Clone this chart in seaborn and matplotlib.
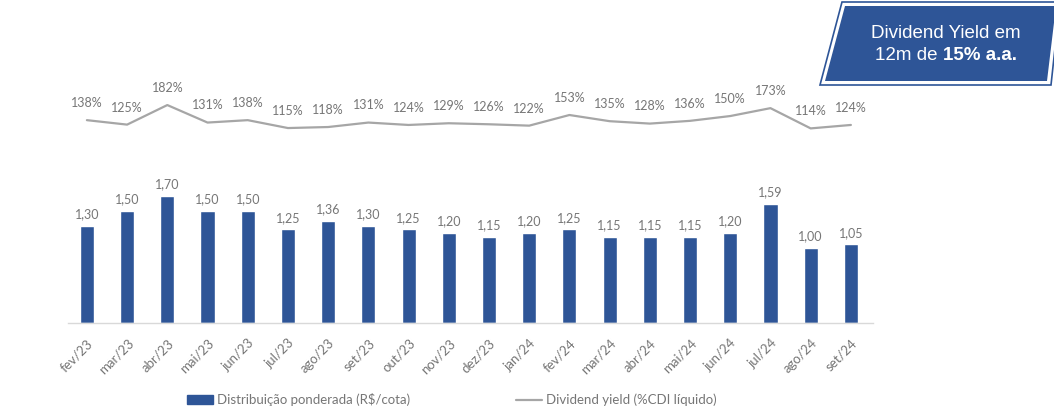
import numpy as np
import pandas as pd

import matplotlib.pyplot as plt
import matplotlib.patches as mpatches
from matplotlib.lines import Line2D
import seaborn as sns

meses = ["fev/23", "mar/23", "abr/23", "mai/23", "jun/23", "jul/23", "ago/23", "set/23",
         "out/23", "nov/23", "dez/23", "jan/24", "fev/24", "mar/24", "abr/24", "mai/24",
         "jun/24", "jul/24", "ago/24", "set/24"]
distribuicao = [1.30, 1.50, 1.70, 1.50, 1.50, 1.25, 1.36, 1.30, 1.25, 1.20,
                1.15, 1.20, 1.25, 1.15, 1.15, 1.15, 1.20, 1.59, 1.00, 1.05]
dy_cdi = [138, 125, 182, 131, 138, 115, 118, 131, 124, 129,
          126, 122, 153, 135, 128, 136, 150, 173, 114, 124]

AZUL = "#2E5597"
CINZA = "#A6A6A6"
TEXTO = "#767676"

sns.set_style("white")
plt.rcParams["font.family"] = ["Lato", "DejaVu Sans"]

df = pd.DataFrame({"mes": meses, "dist": distribuicao, "dy": dy_cdi})
x = np.arange(len(meses))

W, H = 1054, 407
fig = plt.figure(figsize=(W / 100, H / 100), dpi=100)
# eje en pixeles: x 68..873, y (desde arriba) 80..323
ax = fig.add_axes([68 / W, (H - 323) / H, (873 - 68) / W, (323 - 80) / H])

sns.barplot(data=df, x="mes", y="dist", color=AZUL, width=0.35, ax=ax, saturation=1)
ax.set_ylim(0, 3.24)
ax.set_xlim(-0.47, 19.55)
for i, v in enumerate(distribuicao):
    ax.annotate(f"{v:.2f}".replace(".", ","), (i, v), xytext=(0, 4), textcoords="offset points",
                ha="center", va="bottom", fontsize=9, color=TEXTO)

ax2 = ax.twinx()
sns.lineplot(x=x, y=df["dy"], color=CINZA, linewidth=1.6, ax=ax2)
ax2.set_ylim(-453, 255)
for i, v in enumerate(dy_cdi):
    ax2.annotate(f"{v}%", (i, v), xytext=(0, 8), textcoords="offset points",
                 ha="center", va="bottom", fontsize=9, color=TEXTO)

for a in (ax, ax2):
    a.set_xlabel("")
    a.set_ylabel("")
    a.set_yticks([])
    for s in ["top", "left", "right", "bottom"]:
        a.spines[s].set_visible(False)
ax.spines["bottom"].set_visible(True)
ax.spines["bottom"].set_color("#D9D9D9")
ax.spines["bottom"].set_linewidth(1)

ax.set_xticks(x)
ax.set_xticklabels(meses, rotation=45, ha="right", rotation_mode="anchor",
                   fontsize=9.5, color=TEXTO)
ax.tick_params(axis="x", length=0, pad=10)

handles = [mpatches.Patch(color=AZUL), Line2D([0], [0], color=CINZA, lw=1.6)]
fig.legend(handles, ["Distribuição ponderada (R$/cota)", "Dividend yield (%CDI líquido)"],
           loc="center", bbox_to_anchor=(452 / W, 0.018), ncol=2, frameon=False,
           fontsize=9.5, labelcolor=TEXTO, columnspacing=8, handlelength=2.0,
           handletextpad=0.3)

# caixa com o dividend yield de 12 meses
def fpx(pts):
    return [(px / W, 1 - py / H) for px, py in pts]

externo = mpatches.Polygon(fpx([(820, 85), (842, 2), (1060, 2), (1051, 85)]),
                           closed=True, transform=fig.transFigure, facecolor="white",
                           edgecolor=AZUL, linewidth=1.2)
interno = mpatches.Polygon(fpx([(825, 81), (845, 6), (1056, 6), (1047, 81)]),
                           closed=True, transform=fig.transFigure, facecolor=AZUL,
                           edgecolor="none")
fig.patches.extend([externo, interno])
fonte_caixa = ["Liberation Sans", "DejaVu Sans"]
fig.text(946 / W, 1 - 34 / H, "Dividend Yield em", ha="center", va="center",
         color="white", fontsize=13.5, family=fonte_caixa)

# segunda linha: parte normal + parte em negrito
t1 = fig.text(0, 1 - 55 / H, "12m de ", ha="left", va="center",
              color="white", fontsize=13.5, family=fonte_caixa)
t2 = fig.text(0, 1 - 55 / H, "15% a.a.", ha="left", va="center",
              color="white", fontsize=13.5, family=fonte_caixa, fontweight="bold")
r = fig.canvas.get_renderer()
w1 = t1.get_window_extent(r).width
w2 = t2.get_window_extent(r).width
inicio = 946 - (w1 + w2) / 2
t1.set_x(inicio / W)
t2.set_x((inicio + w1) / W)

fig.savefig("out.png", dpi=100)
